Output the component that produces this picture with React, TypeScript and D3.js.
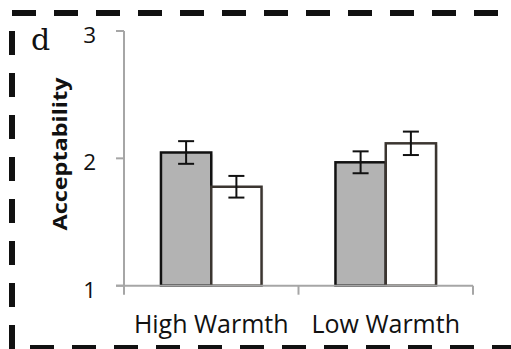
import React from 'react';
import { scaleBand, scaleLinear } from 'd3';

const categories = ['High Warmth', 'Low Warmth'];
const series = ['gray', 'white'];
const grayValues = [2.046, 1.969];
const whiteValues = [1.777, 2.118];
const grayErrors = [0.089, 0.086];
const whiteErrors = [0.085, 0.092];
const yTicks = [1, 2, 3];

const W = 511;
const H = 349;
const left = 124;
const right = 473;
const top = 31;
const bottom = 285.7;

const fills: Record<string, string> = { gray: '#b3b3b3', white: '#ffffff' };
const strokes: Record<string, string> = { gray: '#111111', white: '#3b3530' };

const App = () => {
  const x0 = scaleBand<string>().domain(categories).range([left, right]).padding(0);
  const x1 = scaleBand<string>()
    .domain(series)
    .range([0, x0.bandwidth()])
    .paddingInner(0)
    .paddingOuter(0.735);
  const y = scaleLinear().domain([1, 3]).range([bottom, top]);

  const bars = categories.flatMap((c, i) => [
    { c, s: 'gray', v: grayValues[i], e: grayErrors[i] },
    { c, s: 'white', v: whiteValues[i], e: whiteErrors[i] }
  ]);

  const font = '"Open Sans", sans-serif';
  const axisColor = '#a6a6a6';

  return (
    <svg
      width={W}
      height={H}
      style={{ position: 'absolute', left: 0, top: 0, background: '#fff' }}
    >
      {/* dashed frame */}
      <line x1={12} x2={W} y1={13} y2={13} stroke="#111" strokeWidth={6} strokeDasharray="24 18" />
      <line x1={12} x2={12} y1={31} y2={H} stroke="#111" strokeWidth={6} strokeDasharray="24 18" />
      <line x1={30} x2={W} y1={348} y2={348} stroke="#111" strokeWidth={6} strokeDasharray="24 18" />

      <text x={31} y={50} fontFamily="DejaVu Serif, serif" fontSize={30} fill="#111">d</text>

      {/* y axis */}
      <line x1={left} x2={left} y1={top} y2={bottom} stroke={axisColor} strokeWidth={2} />
      {yTicks.map(t => (
        <g key={t}>
          <line x1={left - 8} x2={left} y1={y(t)} y2={y(t)} stroke={axisColor} strokeWidth={2} />
          <text x={96} y={y(t) + 12} textAnchor="end" fontFamily={font} fontSize={22.5} fill="#111">
            {t}
          </text>
        </g>
      ))}
      <text
        transform={`translate(67, 154) rotate(-90)`}
        textAnchor="middle"
        fontFamily={font}
        fontWeight="bold"
        fontSize={19}
        textLength={153}
        lengthAdjust="spacingAndGlyphs"
        fill="#111"
      >
        Acceptability
      </text>

      {/* bars */}
      {bars.map((b, i) => {
        const bx = (x0(b.c) ?? 0) + (x1(b.s) ?? 0);
        const bw = x1.bandwidth();
        const yt = y(b.v);
        return (
          <g key={'bar' + i}>
            <rect x={bx + 2} y={yt + 2} width={bw} height={bottom - yt - 2} fill="#000" opacity={0.08} />
            <rect x={bx} y={yt} width={bw} height={bottom - yt} fill={fills[b.s]} stroke={strokes[b.s]} strokeWidth={2.5} />
          </g>
        );
      })}

      {/* x axis */}
      <line x1={left - 8} x2={right} y1={bottom} y2={bottom} stroke={axisColor} strokeWidth={2} />
      {[left, left + x0.step(), right].map((tx, i) => (
        <line key={'xt' + i} x1={tx} x2={tx} y1={bottom} y2={bottom + 9} stroke={axisColor} strokeWidth={2} />
      ))}
      {categories.map(c => (
        <text
          key={c}
          x={(x0(c) ?? 0) + x0.bandwidth() / 2}
          y={333}
          textAnchor="middle"
          fontFamily={font}
          fontSize={25}
          fill="#111"
        >
          {c}
        </text>
      ))}

      {/* error bars */}
      {bars.map((b, i) => {
        const cx = (x0(b.c) ?? 0) + (x1(b.s) ?? 0) + x1.bandwidth() / 2;
        const y1 = y(b.v + b.e);
        const y2 = y(b.v - b.e);
        return (
          <g key={'err' + i} stroke="#111" strokeWidth={2}>
            <line x1={cx} x2={cx} y1={y1} y2={y2} />
            <line x1={cx - 8} x2={cx + 8} y1={y1} y2={y1} />
            <line x1={cx - 8} x2={cx + 8} y1={y2} y2={y2} />
          </g>
        );
      })}
    </svg>
  );
};

export default App;
